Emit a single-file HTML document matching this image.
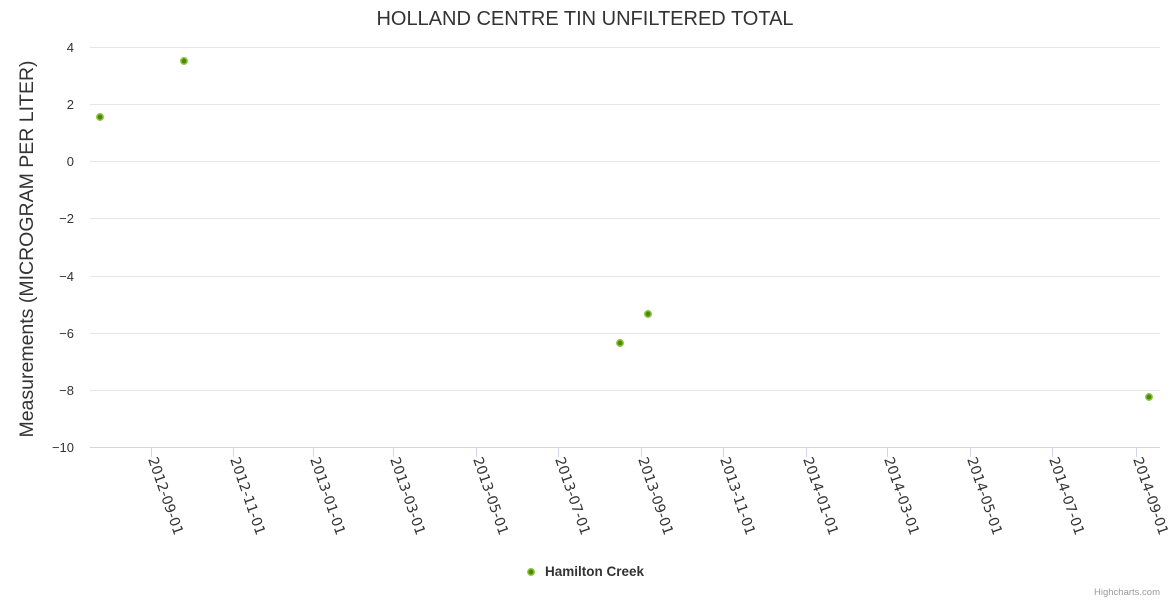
<!DOCTYPE html>
<html><head><meta charset="utf-8"><style>
html,body{margin:0;padding:0;background:#fff;width:1170px;height:600px;overflow:hidden}
text{font-family:"Liberation Sans","DejaVu Sans",sans-serif}
.xl text{font-family:"DejaVu Sans",sans-serif}
</style></head><body>
<svg width="1170" height="600" xmlns="http://www.w3.org/2000/svg">
<text x="585" y="25" text-anchor="middle" font-size="20" fill="#333">HOLLAND CENTRE TIN UNFILTERED TOTAL</text>
<g stroke="#e6e6e6" stroke-width="1">
<line x1="90" x2="1160" y1="47.5" y2="47.5"/>
<line x1="90" x2="1160" y1="104.5" y2="104.5"/>
<line x1="90" x2="1160" y1="161.5" y2="161.5"/>
<line x1="90" x2="1160" y1="218.5" y2="218.5"/>
<line x1="90" x2="1160" y1="276.5" y2="276.5"/>
<line x1="90" x2="1160" y1="333.5" y2="333.5"/>
<line x1="90" x2="1160" y1="390.5" y2="390.5"/>
</g>
<line x1="90" x2="1160" y1="447.5" y2="447.5" stroke="#ccd6eb"/>
<g font-size="13" fill="#333" text-anchor="end">
<text x="74" y="52">4</text><text x="74" y="109">2</text><text x="74" y="166">0</text>
<text x="74" y="223">−2</text><text x="74" y="281">−4</text><text x="74" y="338">−6</text>
<text x="74" y="395">−8</text><text x="74" y="452">−10</text>
</g>
<text transform="translate(33,249) rotate(-90)" text-anchor="middle" font-size="19.5" fill="#333">Measurements (MICROGRAM PER LITER)</text>
<g stroke="#ccd6eb">
<line x1="151.5" x2="151.5" y1="447" y2="457"/>
<line x1="233.5" x2="233.5" y1="447" y2="457"/>
<line x1="313.5" x2="313.5" y1="447" y2="457"/>
<line x1="393.5" x2="393.5" y1="447" y2="457"/>
<line x1="476.5" x2="476.5" y1="447" y2="457"/>
<line x1="558.5" x2="558.5" y1="447" y2="457"/>
<line x1="641.5" x2="641.5" y1="447" y2="457"/>
<line x1="723.5" x2="723.5" y1="447" y2="457"/>
<line x1="806.5" x2="806.5" y1="447" y2="457"/>
<line x1="887.5" x2="887.5" y1="447" y2="457"/>
<line x1="970.5" x2="970.5" y1="447" y2="457"/>
<line x1="1052.5" x2="1052.5" y1="447" y2="457"/>
<line x1="1136.5" x2="1136.5" y1="447" y2="457"/>
</g>
<g class="xl" font-size="14" fill="#333">
<text transform="translate(148,459) rotate(71)">2012-09-01</text>
<text transform="translate(230,459) rotate(71)">2012-11-01</text>
<text transform="translate(310,459) rotate(71)">2013-01-01</text>
<text transform="translate(390,459) rotate(71)">2013-03-01</text>
<text transform="translate(473,459) rotate(71)">2013-05-01</text>
<text transform="translate(555,459) rotate(71)">2013-07-01</text>
<text transform="translate(638,459) rotate(71)">2013-09-01</text>
<text transform="translate(720,459) rotate(71)">2013-11-01</text>
<text transform="translate(803,459) rotate(71)">2014-01-01</text>
<text transform="translate(884,459) rotate(71)">2014-03-01</text>
<text transform="translate(967,459) rotate(71)">2014-05-01</text>
<text transform="translate(1049,459) rotate(71)">2014-07-01</text>
<text transform="translate(1133,459) rotate(71)">2014-09-01</text>
</g>
<g fill="#4d8c00" stroke="#8cc43c" stroke-width="1.5">
<circle cx="100" cy="117" r="3.2"/>
<circle cx="184" cy="61" r="3.2"/>
<circle cx="620" cy="343" r="3.2"/>
<circle cx="648" cy="314" r="3.2"/>
<circle cx="1149" cy="397" r="3.2"/>
<circle cx="531" cy="572" r="3.2"/>
</g>
<text x="545" y="576" font-size="13.5" font-weight="bold" fill="#333">Hamilton Creek</text>
<text x="1160" y="595" text-anchor="end" font-size="9.5" fill="#999">Highcharts.com</text>
</svg>
</body></html>
